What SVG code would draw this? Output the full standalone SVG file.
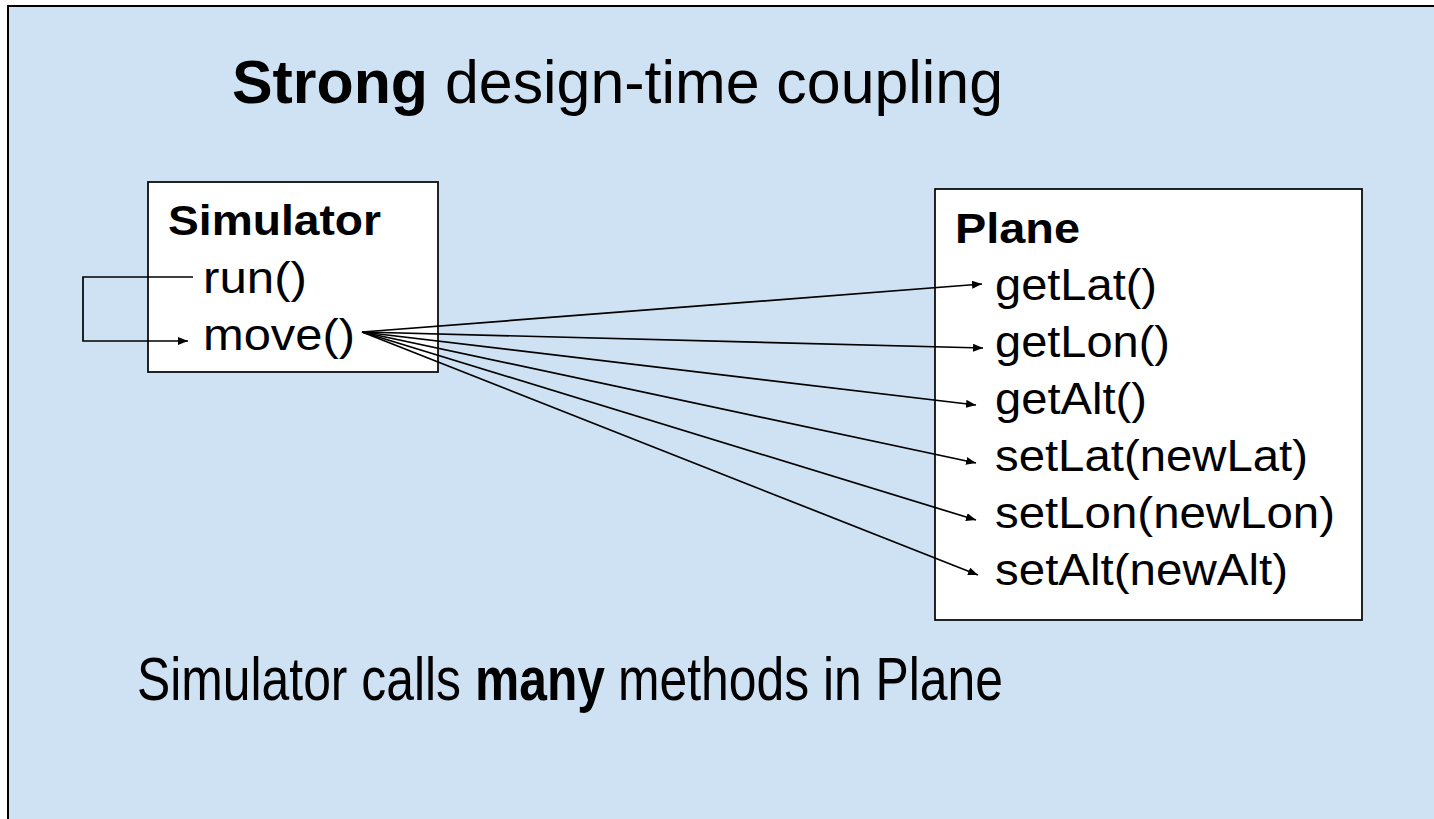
<svg xmlns="http://www.w3.org/2000/svg" width="1434" height="819" viewBox="0 0 1434 819">
<defs>
<style>
.t{font-family:"Liberation Sans",Arial,sans-serif;fill:#000}
.b{font-weight:bold}
.box{fill:#fff;stroke:#000;stroke-width:1.7}
.c{fill:none;stroke:#000;stroke-width:1.7}
</style>
<marker id="ah" viewBox="0 0 10 8" refX="10" refY="4" markerWidth="10" markerHeight="8" markerUnits="userSpaceOnUse" orient="auto">
<path d="M0,0 L10,4 L0,8 z" fill="#000"/>
</marker>
</defs>
<rect x="0" y="0" width="1434" height="819" fill="#fff"/>
<rect x="8" y="6" width="1426" height="813" fill="#cfe2f3"/>
<path d="M8,819 V6 H1434" fill="none" stroke="#000" stroke-width="2"/>
<g id="title">
<text class="t b" x="232" y="103" font-size="62" textLength="196" lengthAdjust="spacingAndGlyphs">Strong</text>
<text class="t" x="445" y="103" font-size="62" textLength="558" lengthAdjust="spacingAndGlyphs">design-time coupling</text>
</g>
<g id="simulator">
<rect class="box" x="148" y="182" width="290" height="190"/>
<text class="t b" x="168" y="235" font-size="42" textLength="213" lengthAdjust="spacingAndGlyphs">Simulator</text>
<text class="t" x="203" y="293" font-size="44" textLength="104" lengthAdjust="spacingAndGlyphs">run()</text>
<text class="t" x="203" y="350" font-size="44" textLength="152" lengthAdjust="spacingAndGlyphs">move()</text>
</g>
<g id="plane">
<rect class="box" x="935" y="189" width="427" height="431"/>
<text class="t b" x="955" y="243" font-size="42" textLength="125" lengthAdjust="spacingAndGlyphs">Plane</text>
<text class="t" x="995" y="300" font-size="44" textLength="162" lengthAdjust="spacingAndGlyphs">getLat()</text>
<text class="t" x="995" y="357" font-size="44" textLength="175" lengthAdjust="spacingAndGlyphs">getLon()</text>
<text class="t" x="995" y="414" font-size="44" textLength="152" lengthAdjust="spacingAndGlyphs">getAlt()</text>
<text class="t" x="995" y="471" font-size="44" textLength="313" lengthAdjust="spacingAndGlyphs">setLat(newLat)</text>
<text class="t" x="995" y="528" font-size="44" textLength="340" lengthAdjust="spacingAndGlyphs">setLon(newLon)</text>
<text class="t" x="995" y="585" font-size="44" textLength="293" lengthAdjust="spacingAndGlyphs">setAlt(newAlt)</text>
</g>
<g id="connectors">
<path class="c" d="M193,277 H83 V341 H188" marker-end="url(#ah)"/>
<path class="c" d="M362,332 L982,284" marker-end="url(#ah)"/>
<path class="c" d="M362,332 L983,348" marker-end="url(#ah)"/>
<path class="c" d="M362,332 L976,405" marker-end="url(#ah)"/>
<path class="c" d="M362,332 L976,463" marker-end="url(#ah)"/>
<path class="c" d="M362,332 L976,520" marker-end="url(#ah)"/>
<path class="c" d="M362,332 L978,575" marker-end="url(#ah)"/>
</g>
<g id="caption" transform="scale(1,1.24)">
<text class="t" x="137" y="564.5" font-size="50" textLength="324" lengthAdjust="spacingAndGlyphs">Simulator calls</text>
<text class="t b" x="475" y="564.5" font-size="50" textLength="130" lengthAdjust="spacingAndGlyphs">many</text>
<text class="t" x="618" y="564.5" font-size="50" textLength="385" lengthAdjust="spacingAndGlyphs">methods in Plane</text>
</g>
</svg>
